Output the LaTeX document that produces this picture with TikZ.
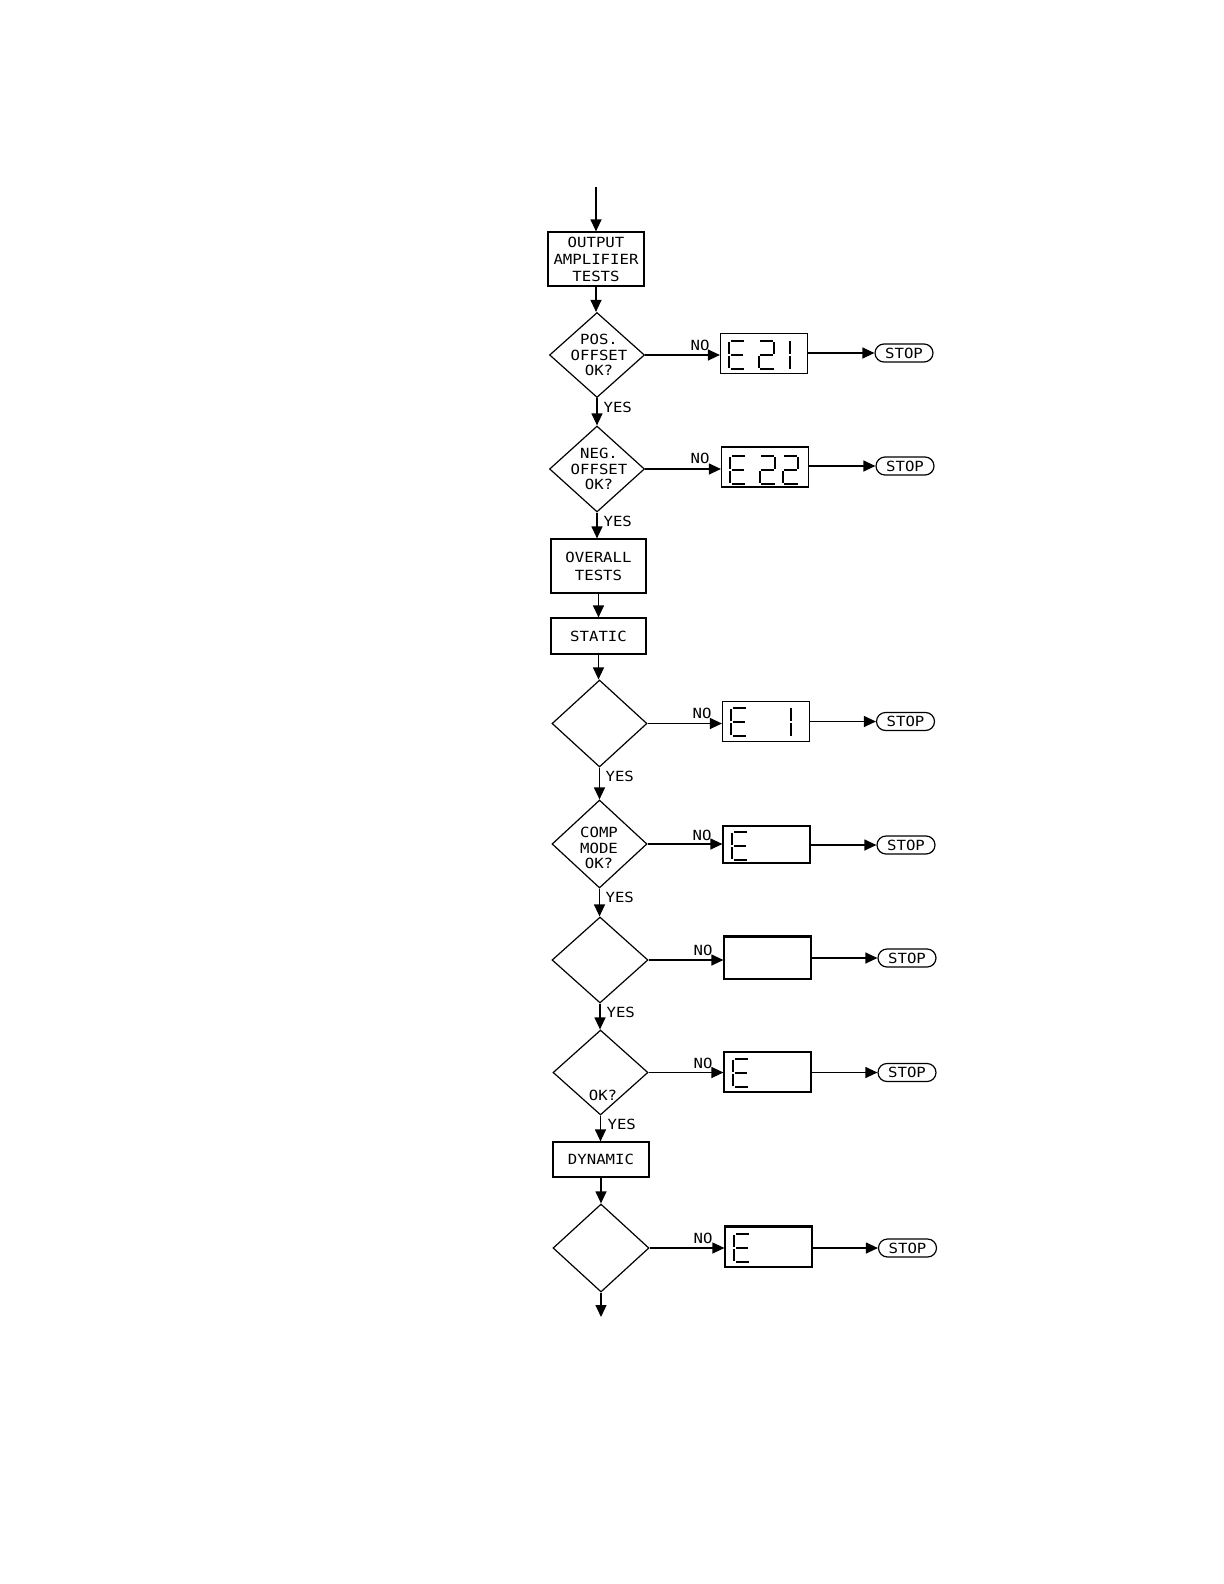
\documentclass[tikz,border=0pt]{standalone}
\usepackage{fontspec}
\newfontfamily\plotfont[FakeStretch=1.12]{DejaVu Sans Mono}
\usetikzlibrary{shapes.geometric,arrows.meta}
\tikzset{
  segE/.pic={\draw[seg] (0,1)--(0,13) (0,15)--(0,27) (2,0)--(15,0) (2,14)--(14,14) (2,28)--(15,28);},
  segTwo/.pic={\draw[seg] (1,0)--(14,0) (15,1)--(15,13) (1,14)--(14,14) (0,15)--(0,27) (1,28)--(15,28);},
  segOne/.pic={\draw[seg] (0,0)--(0,13) (0,15)--(0,28);}
}
\begin{document}
\begin{tikzpicture}[x=0.5pt,y=-0.5pt,line width=0.6pt,
  every node/.style={font=\plotfont\fontsize{7}{8.5}\selectfont},
  box/.style={draw,rectangle,inner sep=0pt,align=center},
  dia/.style={draw,diamond,inner sep=0pt},
  dtext/.style={align=center,inner sep=0pt,font=\plotfont\fontsize{7}{7.8}\selectfont},
  disp/.style={draw,rectangle,inner sep=0pt,minimum width=43.5pt,minimum height=20pt},
  stopbox/.style={draw,rectangle,rounded corners=4.5pt,inner sep=0pt,minimum width=29pt,minimum height=9pt},
  arr/.style={-{Triangle[length=6pt,width=5.5pt]}},
  lbl/.style={inner sep=0pt},
  seg/.style={line width=1.25pt,line cap=butt}
]
\useasboundingbox (0,0) rectangle (1224,1584);

% main column
\coordinate (start) at (596,187);
\node[box,minimum width=48pt,minimum height=27pt] (out) at (596,259) {OUTPUT\\AMPLIFIER\\TESTS};
\node[dia,minimum width=47.5pt,minimum height=42.5pt] (d1) at (597,355) {};
\node[dtext] (d1t) at (599,355) {POS.\\OFFSET\\OK?};
\node[dia,minimum width=47.5pt,minimum height=43pt] (d2) at (597,469) {};
\node[dtext] (d2t) at (599,469) {NEG.\\OFFSET\\OK?};
\node[box,minimum width=47.5pt,minimum height=27pt,font=\plotfont\fontsize{7}{9}\selectfont] (ovr) at (598.5,566) {OVERALL\\TESTS};
\node[box,minimum width=47.5pt,minimum height=18pt] (sta) at (598.5,636) {STATIC};
\node[dia,minimum width=47.5pt,minimum height=43.5pt] (d3) at (599.5,723.5) {};
\node[dia,minimum width=47.5pt,minimum height=44pt] (d4) at (599.5,844) {};
\node[dtext] (d4t) at (599,848) {COMP\\MODE\\OK?};
\node[dia,minimum width=48pt,minimum height=43pt] (d5) at (600,960) {};
\node[dia,minimum width=47.5pt,minimum height=42.5pt] (d6) at (600.5,1072.5) {};
\node[dtext] (d6t) at (603,1095) {OK?};
\node[box,minimum width=48pt,minimum height=17.5pt] (dyn) at (601,1159.5) {DYNAMIC};
\node[dia,minimum width=48pt,minimum height=44pt] (d7) at (601,1248) {};
\coordinate (end) at (601,1317);

% displays
\node[disp] (e1) at (764,353.5) {};
\node[disp] (e2) at (765,467) {};
\node[disp] (e3) at (766,721.5) {};
\node[disp,minimum height=18.5pt] (e4) at (766.5,844.5) {};
\node[disp,minimum height=21pt] (e5) at (767.5,958) {};
\node[disp] (e6) at (767.5,1072) {};
\node[disp] (e7) at (768.5,1247) {};
\draw[line width=1.3pt] (e5.north west) -- (e5.north east);
\draw[line width=1.3pt] (e7.north west) -- (e7.north east);

\pic at (729,341) {segE};
\pic at (759,341) {segTwo};
\pic at (790,341) {segOne};
\pic at (730,456) {segE};
\pic at (760,456) {segTwo};
\pic at (783,456) {segTwo};
\pic at (731,708) {segE};
\pic at (791,708) {segOne};
\pic at (732,832) {segE};
\pic at (733,1059) {segE};
\pic at (734,1234) {segE};

% stops
\node[stopbox] (s1) at (904,353) {STOP};
\node[stopbox] (s2) at (905,466) {STOP};
\node[stopbox] (s3) at (905.5,721.5) {STOP};
\node[stopbox] (s4) at (906,845) {STOP};
\node[stopbox] (s5) at (907,958) {STOP};
\node[stopbox] (s6) at (907,1072.5) {STOP};
\node[stopbox] (s7) at (907.5,1248) {STOP};

% vertical connectors
\draw[arr] (start) -- (out.north);
\foreach \a/\b in {out/d1,d1/d2,d2/ovr,ovr/sta,sta/d3,d3/d4,d4/d5,d5/d6,d6/dyn,dyn/d7}{
  \draw[arr] (\a.south) -- (\a.south |- \b.north);
}
\draw[arr] (d7.south) -- (end);

% horizontal connectors
\foreach \d/\e/\s in {d1/e1/s1,d2/e2/s2,d3/e3/s3,d4/e4/s4,d5/e5/s5,d6/e6/s6,d7/e7/s7}{
  \draw[arr] (\d.east) -- (\d.east -| \e.west);
  \draw[arr] (\e.east |- \s.west) -- (\s.west);
}

% labels
\node[lbl] (n1) at (700,345) {NO};
\node[lbl] (n2) at (700,458) {NO};
\node[lbl] (n3) at (702,713) {NO};
\node[lbl] (n4) at (702,835) {NO};
\node[lbl] (n5) at (703,950) {NO};
\node[lbl] (n6) at (703,1063) {NO};
\node[lbl] (n7) at (703,1238) {NO};
\node[lbl,anchor=west] (y1) at (603,407) {YES};
\node[lbl,anchor=west] (y2) at (603,521) {YES};
\node[lbl,anchor=west] (y3) at (605,776) {YES};
\node[lbl,anchor=west] (y4) at (605,897) {YES};
\node[lbl,anchor=west] (y5) at (606,1012) {YES};
\node[lbl,anchor=west] (y6) at (607,1124) {YES};
\end{tikzpicture}
\end{document}
